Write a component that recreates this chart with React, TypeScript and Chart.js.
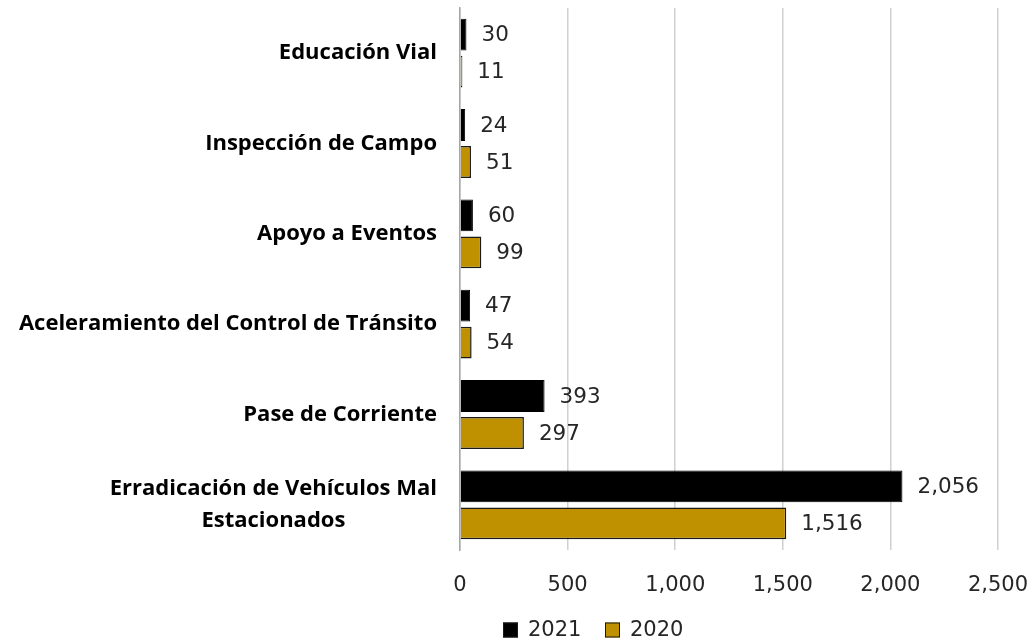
import React, { useEffect, useRef } from "react";
import { Chart, registerables } from "chart.js";

Chart.register(...registerables);

const categories: string[][] = [
  ["Educación Vial"],
  ["Inspección de Campo"],
  ["Apoyo a Eventos"],
  ["Aceleramiento del Control de Tránsito"],
  ["Pase de Corriente"],
  ["Erradicación de Vehículos Mal", "Estacionados"],
];
const values2021: number[] = [30, 24, 60, 47, 393, 2056];
const values2020: number[] = [11, 51, 99, 54, 297, 1516];
const xTicks: number[] = [0, 500, 1000, 1500, 2000, 2500];
const seriesNames: string[] = ["2021", "2020"];
const seriesColors: string[] = ["#000000", "#BF9000"];

const NUM_FONT = "'DejaVu Sans', sans-serif";
const LABEL_FONT = "'Open Sans', sans-serif";

const fmt = (v: number) => v.toLocaleString("en-US");

const valueLabels = {
  id: "valueLabels",
  afterDatasetsDraw(chart: any) {
    const ctx = chart.ctx;
    ctx.save();
    ctx.font = `21.5px ${NUM_FONT}`;
    ctx.fillStyle = "#262626";
    ctx.textAlign = "left";
    ctx.textBaseline = "middle";
    chart.data.datasets.forEach((ds: any, di: number) => {
      const meta = chart.getDatasetMeta(di);
      meta.data.forEach((el: any, i: number) => {
        ctx.fillText(fmt(ds.data[i]), el.x + 15, el.y + 1);
      });
    });
    ctx.restore();
  },
};

const yLabels = {
  id: "yLabels",
  afterDraw(chart: any) {
    const ctx = chart.ctx;
    const scale = chart.scales.y;
    const right = chart.chartArea.left - 23;
    const lineH = 32;
    ctx.save();
    ctx.font = `bold 22px ${LABEL_FONT}`;
    ctx.fillStyle = "#000000";
    ctx.textAlign = "center";
    ctx.textBaseline = "middle";
    categories.forEach((lines, i) => {
      const y = scale.getPixelForTick(i);
      const w = Math.max(...lines.map((l) => ctx.measureText(l).width));
      const cx = right - w / 2;
      const y0 = y - ((lines.length - 1) * lineH) / 2;
      lines.forEach((l, j) => ctx.fillText(l, cx, y0 + j * lineH));
    });
    ctx.restore();
  },
};

const customLegend = {
  id: "customLegend",
  afterDraw(chart: any) {
    const ctx = chart.ctx;
    ctx.save();
    ctx.font = `21px ${NUM_FONT}`;
    ctx.textAlign = "left";
    ctx.textBaseline = "middle";
    const y = 630;
    const starts = [503, 605];
    seriesNames.forEach((name, i) => {
      const x = starts[i];
      ctx.fillStyle = seriesColors[i];
      ctx.fillRect(x, y - 7.5, 15, 15);
      ctx.strokeStyle = "#1a1a1a";
      ctx.lineWidth = 1;
      ctx.strokeRect(x + 0.5, y - 7, 14, 14);
      ctx.fillStyle = "#262626";
      ctx.fillText(name, x + 25, y + 1);
    });
    ctx.restore();
  },
};

export default function App() {
  const ref = useRef<HTMLCanvasElement>(null);
  useEffect(() => {
    document.body.style.margin = "0";
    const chart = new Chart(ref.current!, {
      type: "bar",
      data: {
        labels: categories.map((c) => c.join(" ")),
        datasets: [
          {
            label: seriesNames[0],
            data: values2021,
            backgroundColor: seriesColors[0],
            borderColor: "#000000",
            borderWidth: 1,
            categoryPercentage: 0.82,
            barPercentage: 0.86,
          },
          {
            label: seriesNames[1],
            data: values2020,
            backgroundColor: seriesColors[1],
            borderColor: "#1a1a1a",
            borderWidth: 1.5,
            categoryPercentage: 0.82,
            barPercentage: 0.86,
          },
        ],
      },
      options: {
        indexAxis: "y",
        animation: false,
        responsive: false,
        maintainAspectRatio: false,
        layout: { padding: { left: 0, right: 35, top: 8, bottom: 0 } },
        plugins: {
          legend: { display: false },
          tooltip: { enabled: false },
        },
        scales: {
          x: {
            min: 0,
            max: 2500,
            afterBuildTicks: (s: any) => {
              s.ticks = xTicks.map((v) => ({ value: v }));
            },
            afterFit: (s: any) => {
              s.height = 92;
              s.paddingRight = 0;
              s.paddingLeft = 0;
            },
            grid: { color: "#d0d0d0", lineWidth: 1.5, drawTicks: false },
            border: { display: false },
            ticks: {
              font: { family: NUM_FONT, size: 21 },
              color: "#262626",
              padding: 23,
              maxRotation: 0,
              callback: (v: any) => fmt(Number(v)),
            },
          },
          y: {
            afterFit: (s: any) => {
              s.width = 460;
            },
            grid: { display: false },
            border: { display: true, color: "#a6a6a6", width: 1.5 },
            ticks: { display: false },
          },
        },
      },
      plugins: [valueLabels, yLabels, customLegend],
    });
    return () => chart.destroy();
  }, []);
  return (
    <div style={{ position: "absolute", left: 0, top: 0, width: 1033, height: 642 }}>
      <canvas ref={ref} width={1033} height={642} />
    </div>
  );
}
